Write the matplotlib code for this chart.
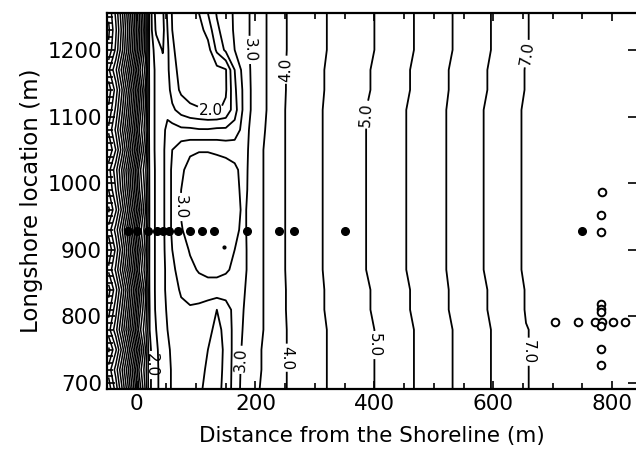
import numpy as np
import matplotlib
matplotlib.use("Agg")
import matplotlib.pyplot as plt

# longshore positions (m) of the depth rows
y_grid = [691, 720, 750, 780, 810, 840, 870, 900, 930, 960,
          990, 1020, 1050, 1080, 1110, 1140, 1170, 1200, 1230, 1255]

# cross-shore positions (m), split into the steep beach face, the bar/trough zone and offshore
x_near = [-47, -35, -25, -15, -5, 5, 15]
x_mid = [22, 33, 44, 52, 60, 75, 90, 105, 120, 135, 150, 165, 180, 195, 210, 230]
x_off = [250, 285, 320, 360, 400, 460, 525, 590, 655, 750, 840]

# depth (m), one row per longshore position (bottom to top)
depth_near = [
    [-2.9, -2.4, -1.8, -1.1, -0.3, 0.6, 1.3],
    [-2.65, -2.15, -1.55, -0.85, -0.05, 0.85, 1.4],
    [-3.05, -2.55, -1.95, -1.25, -0.45, 0.45, 1.25],
    [-2.6, -2.1, -1.5, -0.8, 0.0, 0.9, 1.45],
    [-2.85, -2.35, -1.75, -1.05, -0.25, 0.65, 1.3],
    [-3.1, -2.6, -2.0, -1.3, -0.5, 0.4, 1.2],
    [-2.7, -2.2, -1.6, -0.9, -0.1, 0.8, 1.4],
    [-2.95, -2.45, -1.85, -1.15, -0.35, 0.55, 1.3],
    [-2.65, -2.15, -1.55, -0.85, -0.05, 0.85, 1.4],
    [-3.05, -2.55, -1.95, -1.25, -0.45, 0.45, 1.25],
    [-2.75, -2.25, -1.65, -0.95, -0.15, 0.75, 1.35],
    [-2.6, -2.1, -1.5, -0.8, 0.0, 0.9, 1.45],
    [-3.0, -2.5, -1.9, -1.2, -0.4, 0.5, 1.25],
    [-2.7, -2.2, -1.6, -0.9, -0.1, 0.8, 1.4],
    [-2.95, -2.45, -1.85, -1.15, -0.35, 0.55, 1.3],
    [-3.15, -2.65, -2.05, -1.35, -0.55, 0.35, 1.2],
    [-2.8, -2.3, -1.7, -1.0, -0.2, 0.7, 1.35],
    [-3.2, -2.7, -2.1, -1.4, -0.6, 0.3, 1.15],
    [-3.3, -2.8, -2.2, -1.5, -0.7, 0.2, 1.1],
    [-3.2, -2.7, -2.1, -1.4, -0.6, 0.3, 1.15],
]
depth_mid = [
    [1.95, 2.2, 2.35, 2.45, 2.52, 2.58, 2.62, 2.55, 2.42, 2.4, 2.6, 2.85, 3.1, 3.3, 3.55, 3.8],
    [1.95, 2.2, 2.35, 2.45, 2.52, 2.6, 2.65, 2.6, 2.45, 2.38, 2.58, 2.85, 3.08, 3.25, 3.5, 3.75],
    [1.95, 2.2, 2.4, 2.45, 2.55, 2.62, 2.68, 2.62, 2.5, 2.4, 2.55, 2.85, 3.05, 3.2, 3.5, 3.75],
    [2.0, 2.25, 2.42, 2.5, 2.55, 2.65, 2.7, 2.65, 2.55, 2.45, 2.55, 2.85, 3.02, 3.15, 3.45, 3.75],
    [2.0, 2.3, 2.45, 2.52, 2.6, 2.7, 2.72, 2.68, 2.6, 2.5, 2.6, 2.85, 3.0, 3.12, 3.45, 3.75],
    [2.05, 2.3, 2.45, 2.55, 2.65, 2.78, 2.85, 2.9, 2.92, 2.92, 2.92, 2.93, 2.98, 3.1, 3.45, 3.75],
    [2.05, 2.3, 2.45, 2.55, 2.7, 2.85, 2.95, 3.02, 3.05, 3.05, 3.02, 2.97, 2.95, 3.1, 3.45, 3.75],
    [2.05, 2.3, 2.45, 2.58, 2.75, 2.9, 3.02, 3.1, 3.12, 3.12, 3.08, 3.0, 2.95, 3.1, 3.45, 3.75],
    [2.05, 2.3, 2.45, 2.6, 2.8, 2.98, 3.1, 3.18, 3.2, 3.2, 3.15, 3.05, 2.95, 3.12, 3.45, 3.75],
    [2.05, 2.3, 2.45, 2.6, 2.8, 3.02, 3.18, 3.2, 3.22, 3.22, 3.18, 3.1, 2.95, 3.12, 3.45, 3.75],
    [2.05, 2.3, 2.45, 2.6, 2.8, 3.0, 3.15, 3.2, 3.2, 3.2, 3.15, 3.08, 2.93, 3.1, 3.45, 3.75],
    [2.05, 2.3, 2.45, 2.6, 2.8, 2.95, 3.1, 3.15, 3.15, 3.15, 3.12, 3.05, 2.92, 3.1, 3.45, 3.75],
    [2.1, 2.3, 2.45, 2.6, 2.75, 2.9, 2.95, 2.98, 2.98, 2.95, 2.92, 2.9, 2.9, 3.1, 3.45, 3.75],
    [2.1, 2.3, 2.45, 2.55, 2.6, 2.55, 2.55, 2.52, 2.52, 2.55, 2.55, 2.6, 2.85, 3.1, 3.4, 3.72],
    [2.1, 2.3, 2.45, 2.45, 2.3, 2.15, 2.05, 2.02, 1.98, 1.97, 2.05, 2.4, 2.8, 3.05, 3.35, 3.7],
    [2.1, 2.3, 2.4, 2.35, 2.15, 1.95, 1.9, 1.88, 1.88, 1.9, 1.97, 2.45, 2.8, 3.05, 3.35, 3.7],
    [2.1, 2.3, 2.4, 2.3, 2.1, 1.9, 1.85, 1.85, 1.88, 1.92, 1.98, 2.5, 2.85, 3.05, 3.35, 3.7],
    [2.1, 2.35, 2.52, 2.3, 2.05, 1.85, 1.8, 1.8, 1.9, 2.3, 2.55, 2.75, 2.9, 3.05, 3.35, 3.7],
    [2.1, 2.55, 2.58, 2.25, 2.0, 1.8, 1.8, 1.9, 2.1, 2.45, 2.62, 2.78, 2.9, 3.05, 3.35, 3.7],
    [2.1, 2.6, 2.55, 2.2, 1.98, 1.8, 1.8, 2.0, 2.25, 2.52, 2.65, 2.78, 2.9, 3.05, 3.35, 3.7],
]
off_end = [3.98, 4.25, 4.5, 4.75, 5.0, 5.45, 5.95, 6.45, 6.99, 7.2, 7.4]
off_mid = [4.0, 4.3, 4.55, 4.85, 5.08, 5.55, 6.03, 6.55, 7.06, 7.25, 7.42]
off_step = [3.99, 4.28, 4.53, 4.8, 5.04, 5.5, 6.0, 6.5, 7.02, 7.22, 7.41]
depth_off = [off_end] * 4 + [off_step] * 2 + [off_mid] * 9 + [off_step] * 2 + [off_end] * 3

# beach-face contours are drawn every 0.25 m, the rest every 0.25-0.5 m
shore_levels = [-3.25, -3.0, -2.75, -2.5, -2.25, -2.0, -1.75, -1.5, -1.25, -1.0,
                -0.75, -0.5, -0.25, 0.0, 0.25, 0.5, 0.75, 1.0, 1.25, 1.5, 1.75]
plain_levels = [2.25, 2.5, 2.75, 3.5, 4.5, 5.5, 6.0, 6.5]
label_levels = [2.0, 3.0, 4.0, 5.0, 7.0]
label_spots = [(25, 727), (125, 1105), (189, 1200), (79, 964), (170, 735),
               (259, 1170), (254, 738), (385, 1103), (397, 757), (661, 1193), (661, 747)]

# instrument locations
filled_x = [-15, 0, 20, 35, 45, 55, 70, 90, 110, 130, 185, 240, 265, 350, 750]
filled_y = [928] * 15
small_x = [147]
small_y = [904]
open_x = [782, 781, 781, 781, 781, 781, 703, 742, 771, 782, 802, 822, 781, 781, 781]
open_y = [987, 952, 926, 819, 811, 806, 792, 792, 792, 792, 792, 792, 786, 751, 727]

plt.rcParams['font.family'] = 'DejaVu Sans'
fig = plt.figure(figsize=(6.36, 4.49), dpi=100)
ax = fig.add_axes([0.168, 0.1336, 0.832, 0.8368])

X, Y = np.meshgrid(x_near + x_mid + x_off, y_grid)
Z = np.hstack([np.array(depth_near), np.array(depth_mid), np.array(depth_off)])
ax.contour(X, Y, Z, levels=shore_levels, colors='black', linewidths=1.1,
           negative_linestyles='solid')
ax.contour(X, Y, Z, levels=plain_levels, colors='black', linewidths=1.3)
cs = ax.contour(X, Y, Z, levels=label_levels, colors='black', linewidths=1.3)
ax.clabel(cs, manual=label_spots, fmt='%.1f', fontsize=11, inline=True, inline_spacing=2)

ax.plot(filled_x, filled_y, 'o', color='black', ms=5.5, ls='none')
ax.plot(small_x, small_y, 'o', color='black', ms=2, ls='none')
ax.plot(open_x, open_y, 'o', mfc='white', mec='black', mew=1.4, ms=5.5, ls='none')

ax.set_xlim(-47, 840)
ax.set_ylim(691, 1255)
ax.set_xticks([0, 200, 400, 600, 800])
ax.set_xticks(np.arange(-50, 841, 50), minor=True)
ax.set_yticks([700, 800, 900, 1000, 1100, 1200])
ax.set_yticks(np.arange(700, 1251, 10), minor=True)
ax.tick_params(which='both', direction='in', top=True, right=True, labelsize=15.5, width=1.2)
ax.tick_params(which='major', length=6)
ax.tick_params(which='minor', length=4)
ax.tick_params(axis='y', which='minor', right=False)
for s in ax.spines.values():
    s.set_linewidth(1.6)
ax.spines['right'].set_visible(False)

ax.set_xlabel('Distance from the Shoreline (m)', fontsize=15.5, labelpad=9)
ax.set_ylabel('Longshore location (m)', fontsize=16.5, labelpad=3)

fig.savefig('out.png', dpi=100)
